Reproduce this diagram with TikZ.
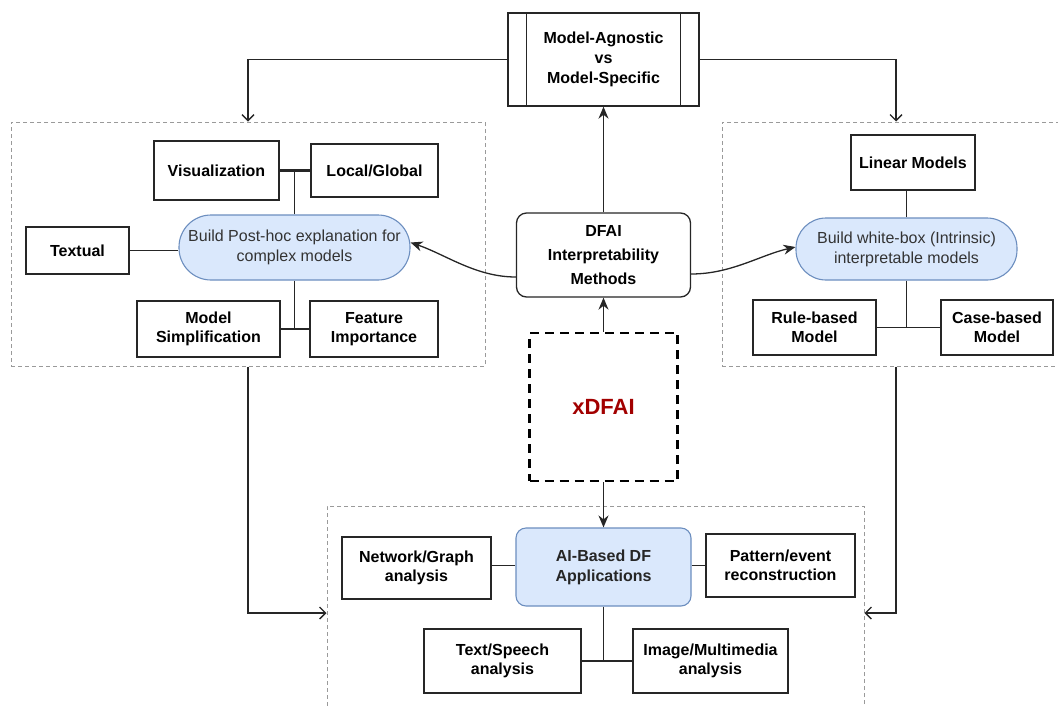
\documentclass[tikz,border=0pt]{standalone}
\usepackage{fontspec}
\setmainfont{Liberation Sans}
\usetikzlibrary{arrows.meta}
\definecolor{bluefill}{HTML}{DAE8FC}
\definecolor{bluedraw}{HTML}{6C8EBF}
\definecolor{darkred}{HTML}{A20000}
\definecolor{grayline}{HTML}{9A9A9A}
\begin{document}
\begin{tikzpicture}[x=1pt,y=-1pt,
  wbox/.style={draw=black!85, line width=1.3pt, fill=white, align=center, inner sep=0pt,
    font=\fontsize{16}{19}\selectfont\bfseries},
  stadium/.style={draw=bluedraw, line width=1.1pt, fill=bluefill, align=center, inner sep=0pt,
    text=black!80, font=\fontsize{16}{20}\selectfont},
  cont/.style={draw=grayline, line width=1pt, dash pattern=on 4pt off 3pt, inner sep=0pt},
  conn/.style={draw=black!85, line width=1.3pt},
  openarr/.style={conn, -{Straight Barb[length=6pt,width=12pt]}},
  fillarr/.style={conn, -{Stealth[length=12pt,width=10pt]}},
]
\useasboundingbox (0,0) rectangle (1058,705);
\clip (0,0) rectangle (1058,705);

% containers
\node[cont, minimum width=474pt, minimum height=244pt] (lc) at (248,244) {};
\node[cont, minimum width=348pt, minimum height=244pt] (rc) at (896,244) {};
\node[cont, minimum width=537pt, minimum height=214pt] (bc) at (595.5,613) {};

% top box
\node[wbox, minimum width=191pt, minimum height=93pt, font=\fontsize{16}{20}\selectfont\bfseries] (ms) at (603.5,59.5) {Model-Agnostic\\vs\\Model-Specific};
\draw[conn] ([xshift=19pt]ms.north west) -- ([xshift=19pt]ms.south west);
\draw[conn] ([xshift=-19pt]ms.north east) -- ([xshift=-19pt]ms.south east);

% center
\node[wbox, rounded corners=10pt, minimum width=174pt, minimum height=84pt, font=\fontsize{16}{24}\selectfont\bfseries] (dfai) at (603.5,255) {DFAI\\Interpretability\\Methods};
\node[draw=black, line width=2.6pt, dash pattern=on 9pt off 6pt, minimum width=148pt, minimum height=148pt, inner sep=0pt, text=darkred, font=\fontsize{22}{26}\selectfont\bfseries] (xd) at (603.5,407) {xDFAI};

% left container contents
\node[wbox, minimum width=125pt, minimum height=59pt] (vis) at (216.5,170.5) {Visualization};
\node[wbox, minimum width=127pt, minimum height=53pt] (lg) at (374.5,170.5) {Local/Global};
\node[stadium, rounded corners=32pt, minimum width=231pt, minimum height=65pt] (ph) at (294.5,247.5) {Build Post-hoc explanation for\\complex models};
\node[wbox, minimum width=103pt, minimum height=47pt] (txt) at (77.5,250.5) {Textual};
\node[wbox, minimum width=143pt, minimum height=56pt] (msi) at (208.5,329) {Model\\Simplification};
\node[wbox, minimum width=128pt, minimum height=56pt] (fi) at (374,329) {Feature\\Importance};

% right container contents
\node[wbox, minimum width=124pt, minimum height=55pt] (lm) at (913,162.5) {Linear Models};
\node[stadium, rounded corners=30pt, minimum width=221pt, minimum height=62pt] (wb) at (906.5,249) {Build white-box (Intrinsic)\\interpretable models};
\node[wbox, minimum width=123pt, minimum height=55pt] (rb) at (814.5,327.5) {Rule-based\\Model};
\node[wbox, minimum width=112pt, minimum height=55pt] (cb) at (997,327.5) {Case-based\\Model};

% bottom container contents
\node[stadium, rounded corners=10pt, minimum width=175pt, minimum height=78pt, text=black!85, font=\fontsize{16}{20}\selectfont\bfseries] (ai) at (603.5,567) {AI-Based DF\\Applications};
\node[wbox, minimum width=149pt, minimum height=62pt] (ng) at (416.5,568) {Network/Graph\\analysis};
\node[wbox, minimum width=149pt, minimum height=63pt] (pe) at (780.5,565.5) {Pattern/event\\reconstruction};
\node[wbox, minimum width=157pt, minimum height=64pt] (ts) at (502.5,661) {Text/Speech\\analysis};
\node[wbox, minimum width=155pt, minimum height=64pt] (im) at (710.5,661) {Image/Multimedia\\analysis};

% connectors: top box to containers
\draw[openarr] (ms.west) -| (lc.north);
\draw[openarr] (ms.east) -| (rc.north);
\draw[openarr] (lc.south) |- (bc.west);
\draw[openarr] (rc.south) |- (bc.east);

% center arrows
\draw[fillarr] (dfai.north) -- (ms.south);
\draw[fillarr] (xd.north) -- (dfai.south);
\draw[fillarr] (xd.south) -- (ai.north);
\draw[fillarr] ([yshift=-22pt]dfai.west) .. controls +(-40,0) and +(35,12) .. ([yshift=5pt]ph.east);
\draw[fillarr] ([yshift=-19pt]dfai.east) .. controls +(40,0) and +(-35,8) .. ([yshift=2pt]wb.west);

% left container links
\draw[conn, line width=3pt] (vis.east) -- (vis.east -| lg.west);
\draw[conn] (ph.north) -- (ph.north |- vis.east);
\draw[conn] (txt.east) -- (txt.east -| ph.west);
\draw[conn] (ph.south) -- (ph.south |- msi.east);
\draw[conn] (msi.east) -- (fi.west);

% right container links
\draw[conn] (wb.north) -- (wb.north |- lm.south);
\draw[conn] (wb.south) -- (wb.south |- rb.east);
\draw[conn] (rb.east) -- (cb.west);

% bottom container links
\draw[conn] (ng.east |- pe.west) -- (ai.west |- pe.west);
\draw[conn] (ai.east |- pe.west) -- (pe.west);
\draw[conn] (ai.south) -- (ai.south |- ts.east);
\draw[conn] (ts.east) -- (im.west);
\end{tikzpicture}
\end{document}
